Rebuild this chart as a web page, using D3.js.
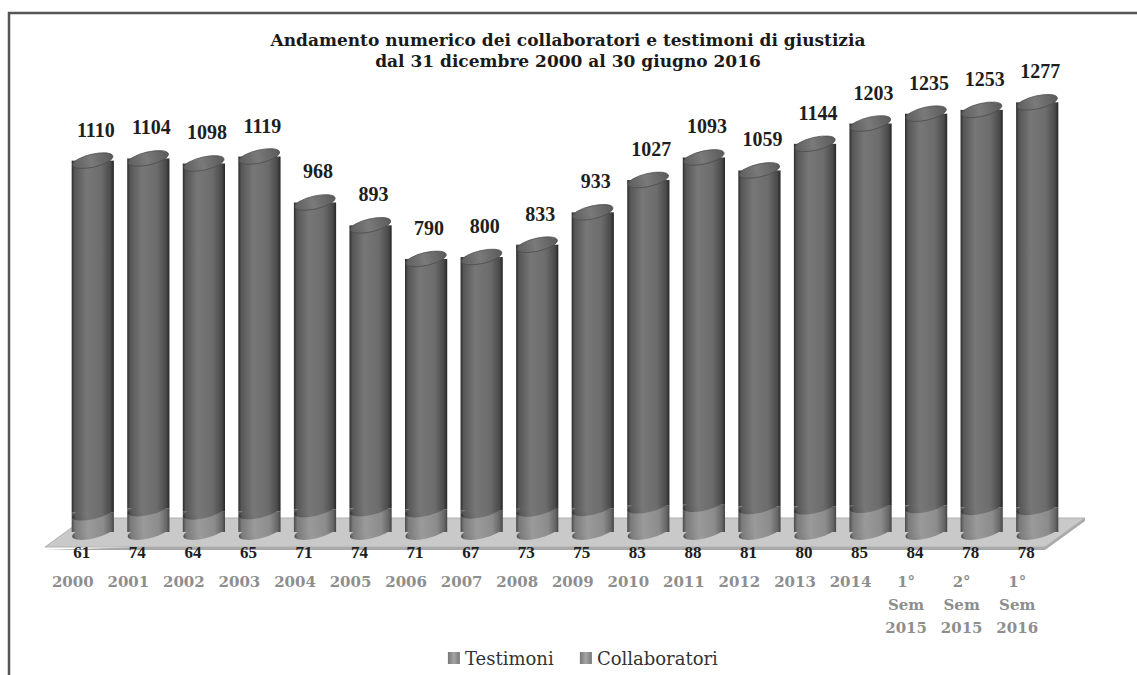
<!DOCTYPE html>
<meta charset="utf-8">
<style>
body { margin: 0; background: #fff; }
text { font-family: "DejaVu Serif", serif; }
.title { font-weight: bold; font-size: 17px; fill: #1a1a1a; }
.value { font-family: "Liberation Serif", serif; font-weight: bold; fill: #1e1e1e; }
.cat { font-weight: bold; font-size: 15px; fill: #8e8e8e; }
.legend text { font-size: 18px; fill: #333; }
</style>

<svg width="1137" height="675"></svg>
<script src="https://d3js.org/d3.v7.min.js"></script>
<script>

// dati
var categories = ["2000", "2001", "2002", "2003", "2004", "2005", "2006", "2007", "2008",
                  "2009", "2010", "2011", "2012", "2013", "2014",
                  "1° Sem 2015", "2° Sem 2015", "1° Sem 2016"];
var collaboratori = [1110, 1104, 1098, 1119, 968, 893, 790, 800, 833, 933, 1027, 1093, 1059, 1144, 1203, 1235, 1253, 1277];
var testimoni = [61, 74, 64, 65, 71, 74, 71, 67, 73, 75, 83, 88, 81, 80, 85, 84, 78, 78];
var seriesNames = ["Testimoni", "Collaboratori"];
var titleLines = ["Andamento numerico dei collaboratori e testimoni di giustizia",
                  "dal 31 dicembre 2000 al 30 giugno 2016"];

var svg = d3.select("svg"),
    width = +svg.attr("width"),
    height = +svg.attr("height");

var x = d3.scaleBand().domain(categories).range([45, 1045]).padding(0);
var y = d3.scaleLinear().domain([0, 1400]).range([532, 88]);

var depth = 40,          // spostamento prospettico del pavimento
    floorTop = 518,
    floorBottom = 547,
    r = x.bandwidth() * 0.38,
    ry = 6.5,
    tilt = -13;

var data = categories.map(function(c, i) {
  return { cat: c, t: testimoni[i], c: collaboratori[i], tot: testimoni[i] + collaboratori[i] };
});

// gradienti dei cilindri
var defs = svg.append("defs");
function grad(id, stops) {
  var g = defs.append("linearGradient").attr("id", id)
      .attr("x1", "0%").attr("x2", "100%").attr("y1", "0%").attr("y2", "0%");
  stops.forEach(function(s) {
    g.append("stop").attr("offset", s[0]).attr("stop-color", s[1]);
  });
}
grad("gColl", [["0%", "#2c2c2c"], ["7%", "#565656"], ["35%", "#777"], ["70%", "#6c6c6c"], ["92%", "#4a4a4a"], ["100%", "#262626"]]);
grad("gTest", [["0%", "#4a4a4a"], ["8%", "#7a7a7a"], ["38%", "#9a9a9a"], ["75%", "#8c8c8c"], ["93%", "#666"], ["100%", "#444"]]);
grad("gTop", [["0%", "#5e5e5e"], ["45%", "#7a7a7a"], ["100%", "#5a5a5a"]]);
grad("gLeg", [["0%", "#777"], ["50%", "#a5a5a5"], ["100%", "#777"]]);

// cornice
svg.append("rect")
    .attr("x", 9).attr("y", 13)
    .attr("width", 1160).attr("height", 700)
    .attr("fill", "none")
    .attr("stroke", "#555")
    .attr("stroke-width", 2.5);

// titolo
svg.selectAll(".title")
    .data(titleLines)
  .enter().append("text")
    .attr("class", "title")
    .attr("x", 568)
    .attr("y", function(d, i) { return 40 + i * 21; })
    .attr("text-anchor", "middle")
    .attr("dominant-baseline", "central")
    .text(function(d) { return d; });

// pavimento
var x0 = x.range()[0], x1 = x.range()[1];
svg.append("polygon")
    .attr("points", [[x0, floorBottom + 3], [x1, floorBottom + 3], [x1 + depth, floorTop + 3], [x1 + depth, floorTop]].join(" "))
    .attr("fill", "#a8a8a8");
svg.append("polygon")
    .attr("points", [[x0, floorBottom], [x0 + depth, floorTop], [x1 + depth, floorTop], [x1, floorBottom]].join(" "))
    .attr("fill", "#c9c9c9")
    .attr("stroke", "#b0b0b0")
    .attr("stroke-width", 1);

// cilindri
function cx(d) { return x(d.cat) + x.bandwidth() / 2 + depth / 2; }

var bar = svg.append("g").selectAll("g")
    .data(data)
  .enter().append("g");

// parte testimoni
bar.append("ellipse")
    .attr("rx", r).attr("ry", ry)
    .attr("transform", function(d) { return "translate(" + cx(d) + "," + y(0) + ") rotate(" + tilt + ")"; })
    .attr("fill", "url(#gTest)");
bar.append("rect")
    .attr("x", function(d) { return cx(d) - r; })
    .attr("y", function(d) { return y(d.t); })
    .attr("width", 2 * r)
    .attr("height", function(d) { return y(0) - y(d.t); })
    .attr("fill", "url(#gTest)");

// parte collaboratori
bar.append("ellipse")
    .attr("rx", r).attr("ry", ry)
    .attr("transform", function(d) { return "translate(" + cx(d) + "," + y(d.t) + ") rotate(" + tilt + ")"; })
    .attr("fill", "url(#gColl)");
bar.append("rect")
    .attr("x", function(d) { return cx(d) - r; })
    .attr("y", function(d) { return y(d.tot); })
    .attr("width", 2 * r)
    .attr("height", function(d) { return y(d.t) - y(d.tot); })
    .attr("fill", "url(#gColl)");
bar.append("ellipse")
    .attr("rx", r - 0.5).attr("ry", ry)
    .attr("transform", function(d) { return "translate(" + cx(d) + "," + y(d.tot) + ") rotate(" + tilt + ")"; })
    .attr("fill", "url(#gTop)")
    .attr("stroke", "#4a4a4a")
    .attr("stroke-width", 0.7);

// etichette valori
svg.append("g").selectAll("text")
    .data(data)
  .enter().append("text")
    .attr("class", "value")
    .attr("font-size", 20)
    .attr("x", function(d) { return cx(d) + 3; })
    .attr("y", function(d) { return y(d.tot) - 31; })
    .attr("text-anchor", "middle")
    .attr("dominant-baseline", "central")
    .text(function(d) { return d.c; });

svg.append("g").selectAll("text")
    .data(data)
  .enter().append("text")
    .attr("class", "value")
    .attr("font-size", 17)
    .attr("x", function(d) { return x(d.cat) + x.bandwidth() / 2 + 9; })
    .attr("y", 552)
    .attr("text-anchor", "middle")
    .attr("dominant-baseline", "central")
    .text(function(d) { return d.t; });

// etichette categorie
var cat = svg.append("g").selectAll("text")
    .data(categories)
  .enter().append("text")
    .attr("class", "cat")
    .attr("text-anchor", "middle")
    .attr("x", function(d) { return x(d) + x.bandwidth() / 2; })
    .attr("y", 582);
cat.selectAll("tspan")
    .data(function(d) { return d.split(" "); })
  .enter().append("tspan")
    .attr("x", function() { return d3.select(this.parentNode).attr("x"); })
    .attr("dy", function(d, i) { return i === 0 ? "0.35em" : 23; })
    .text(function(d) { return d; });

// legenda
var legend = svg.append("g").attr("class", "legend");
var lx = 0;
var items = legend.selectAll("g")
    .data(seriesNames)
  .enter().append("g");
items.append("rect")
    .attr("width", 12).attr("height", 12)
    .attr("y", -6)
    .attr("fill", "url(#gLeg)");
items.append("text")
    .attr("x", 17)
    .attr("dominant-baseline", "central")
    .text(function(d) { return d; });
items.each(function() {
  var w = this.getBBox().width;
  d3.select(this).attr("transform", "translate(" + lx + ",0)");
  lx += w + 26;
});
legend.attr("transform", "translate(" + (583 - (lx - 26) / 2) + ",658)");

</script>
